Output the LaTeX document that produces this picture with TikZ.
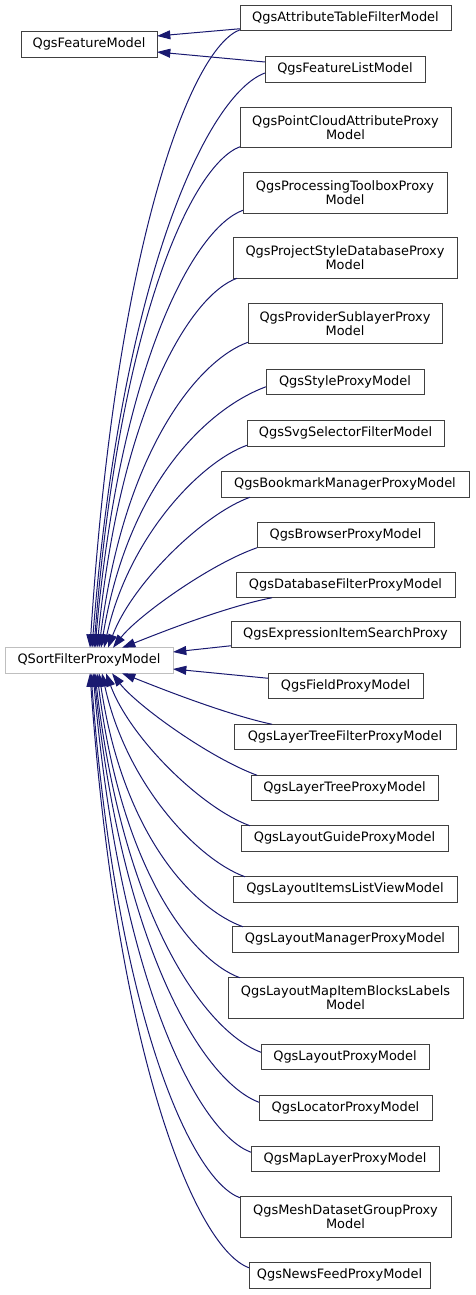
\documentclass[tikz,border=0pt]{standalone}
\usepackage{fontspec}
\setmainfont{DejaVu Sans}
\usetikzlibrary{arrows.meta,calc}
\definecolor{edgeblue}{HTML}{191970}
\definecolor{boxgray}{HTML}{404040}
\definecolor{rootgray}{HTML}{BFBFBF}
\tikzset{
  cls/.style={draw=boxgray, line width=0.75pt, inner sep=0pt, outer sep=0pt, align=center,
    font=\fontsize{9.7pt}{10.5pt}\selectfont, text height=7.4pt, text depth=2.3pt},
  twoline/.style={text height={}, text depth={}},
  root/.style={cls, draw=rootgray},
  sz/.style 2 args={minimum width=#1*0.75pt, minimum height=#2*0.75pt},
  edge/.style={draw=edgeblue, line width=0.75pt, -{Triangle[length=10pt,width=6.7pt]}},
}
\begin{document}
\begin{tikzpicture}[x=0.75pt,y=-0.75pt]
\useasboundingbox (0,0) rectangle (475,1295);
% nodes
\node[cls, sz={136}{25.5}] (fm) at (89,44.5) {QgsFeatureModel};
\node[root, sz={168}{25.5}] (qs) at (89,660.5) {QSortFilterProxyModel};
\node[cls, sz={211}{25.5}] (attr) at (345.5,18) {QgsAttributeTableFilterModel};
\node[cls, sz={160}{25.5}] (flist) at (345,69.5) {QgsFeatureListModel};
\node[cls, twoline, sz={211}{40.5}] (pc) at (345.5,127.5) {QgsPointCloudAttributeProxy\\Model};
\node[cls, twoline, sz={204}{40.5}] (proc) at (345,193) {QgsProcessingToolboxProxy\\Model};
\node[cls, twoline, sz={224}{40.5}] (pstyle) at (345,258) {QgsProjectStyleDatabaseProxy\\Model};
\node[cls, twoline, sz={194}{40.5}] (prov) at (345,323.5) {QgsProviderSublayerProxy\\Model};
\node[cls, sz={158}{25.5}] (style) at (345,382) {QgsStyleProxyModel};
\node[cls, sz={197}{25.5}] (svg) at (345.5,433.5) {QgsSvgSelectorFilterModel};
\node[cls, sz={248}{25.5}] (bm) at (345,484.5) {QgsBookmarkManagerProxyModel};
\node[cls, sz={177}{25.5}] (br) at (345.5,535) {QgsBrowserProxyModel};
\node[cls, sz={219}{25.5}] (db) at (345.5,585) {QgsDatabaseFilterProxyModel};
\node[cls, sz={229}{25.5}] (expr) at (345.5,634.5) {QgsExpressionItemSearchProxy};
\node[cls, sz={155}{25.5}] (field) at (345.5,686) {QgsFieldProxyModel};
\node[cls, sz={222}{25.5}] (ltf) at (345,737) {QgsLayerTreeFilterProxyModel};
\node[cls, sz={187}{25.5}] (ltp) at (344.5,788) {QgsLayerTreeProxyModel};
\node[cls, sz={207}{25.5}] (lg) at (344.5,838.5) {QgsLayoutGuideProxyModel};
\node[cls, sz={224}{25.5}] (li) at (345,889.5) {QgsLayoutItemsListViewModel};
\node[cls, sz={226}{25.5}] (lm) at (345,939.5) {QgsLayoutManagerProxyModel};
\node[cls, twoline, sz={235}{40.5}] (lmap) at (345.5,998) {QgsLayoutMapItemBlocksLabels\\Model};
\node[cls, sz={168}{25.5}] (lp) at (345,1057) {QgsLayoutProxyModel};
\node[cls, sz={173}{25.5}] (loc) at (345.5,1108) {QgsLocatorProxyModel};
\node[cls, sz={188}{25.5}] (ml) at (345,1159) {QgsMapLayerProxyModel};
\node[cls, twoline, sz={211}{40.5}] (mesh) at (345.5,1217) {QgsMeshDatasetGroupProxy\\Model};
\node[cls, sz={181}{25.5}] (news) at (339.5,1275.5) {QgsNewsFeedProxyModel};
% edges to QgsFeatureModel
\draw[edge] ($(attr.south west)+(0,-2)$) -- ($(fm.east)+(0,-8.5)$);
\draw[edge] ($(flist.west)+(0,-7.5)$) -- ($(fm.east)+(0,7.5)$);
% edges to QSortFilterProxyModel (upper)
\draw[edge] ($(attr.south west)+(0,-1)$) .. controls (190.5,48) and (115.5,246.3) .. ($(qs.north west)+(85,0)$);
\draw[edge] ($(flist.west)+(0,3.5)$) .. controls (207.9,93.8) and (121.4,274.3) .. ($(qs.north west)+(87,0)$);
\draw[edge] ($(pc.south west)+(0,-1)$) .. controls (191.8,164.5) and (118.8,322.4) .. ($(qs.north west)+(89,0)$);
\draw[edge] ($(proc.south west)+(0,-3)$) .. controls (194.2,227.8) and (120.2,363.3) .. ($(qs.north west)+(90,0)$);
\draw[edge] ($(pstyle.south west)+(4,0)$) .. controls (190.8,294.8) and (120.8,407.5) .. ($(qs.north west)+(92,0)$);
\draw[edge] ($(prov.south west)+(0,-1.5)$) .. controls (198.8,359.9) and (124.3,449.1) .. ($(qs.north west)+(94,0)$);
\draw[edge] ($(style.south west)+(0,-8)$) .. controls (211.5,406.8) and (129,478.4) .. ($(qs.north west)+(96,0)$);
\draw[edge] ($(svg.south west)+(0,-1)$) .. controls (199.8,462.2) and (128.3,537.6) .. ($(qs.north west)+(99,0)$);
\draw[edge] ($(bm.south west)+(29,0)$) .. controls (203.1,514) and (132.1,583.5) .. ($(qs.north west)+(103,0)$);
\draw[edge] (br.south west) .. controls (209.5,564.3) and (137.5,616.2) .. ($(qs.north west)+(108,0)$);
\draw[edge] ($(db.south west)+(36,0)$) .. controls (222.5,607.2) and (147.5,637.8) .. ($(qs.north west)+(117,0)$);
% side edges
\draw[edge] ($(expr.south west)+(0,-1.5)$) -- ($(qs.east)+(0,-8.5)$);
\draw[edge] ($(field.north west)+(0,5)$) -- ($(qs.east)+(0,8.5)$);
% lower edges
\draw[edge] ($(ltf.north west)+(38,0)$) .. controls (222.5,713.8) and (147.5,683.2) .. ($(qs.south west)+(117,0)$);
\draw[edge] ($(ltp.north west)+(6,0)$) .. controls (209.1,757.6) and (136.7,705.3) .. ($(qs.south west)+(107,0)$);
\draw[edge] ($(lg.north west)+(9,0)$) .. controls (202.5,808.7) and (130.5,739.1) .. ($(qs.south west)+(101,0)$);
\draw[edge] ($(li.north west)+(12,0)$) .. controls (197.8,859.8) and (126.3,784.6) .. ($(qs.south west)+(97,0)$);
\draw[edge] ($(lm.north west)+(11,0)$) .. controls (195.5,909.7) and (123.5,838.1) .. ($(qs.south west)+(94,0)$);
\draw[edge] ($(lmap.north west)+(12,0)$) .. controls (192.8,960.8) and (121.3,871.2) .. ($(qs.south west)+(92,0)$);
\draw[edge] ($(lp.north west)+(0,8)$) .. controls (206.2,1032.1) and (123.2,919.3) .. ($(qs.south west)+(90,0)$);
\draw[edge] ($(loc.north west)+(0,7)$) .. controls (204.6,1082.2) and (122.1,951.8) .. ($(qs.south west)+(89,0)$);
\draw[edge] ($(ml.north west)+(0,6)$) .. controls (198.9,1133) and (119.9,984.3) .. ($(qs.south west)+(88,0)$);
\draw[edge] ($(mesh.north west)+(0,1)$) .. controls (190.8,1180.1) and (116.3,1014.2) .. ($(qs.south west)+(86,0)$);
\draw[edge] ($(news.north west)+(0,5)$) .. controls (196.5,1248.9) and (117,1059.7) .. ($(qs.south west)+(85,0)$);
\end{tikzpicture}
\end{document}
